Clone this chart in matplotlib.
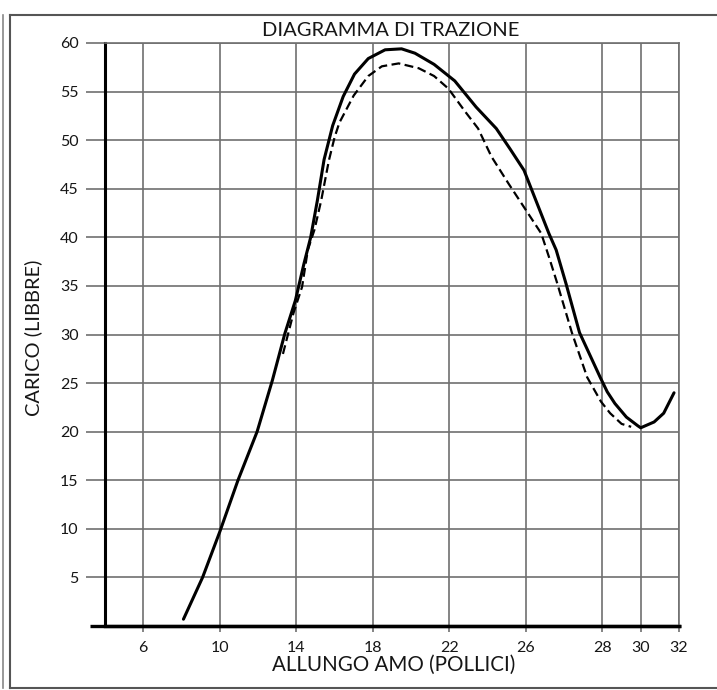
import numpy as np
import matplotlib
matplotlib.use("Agg")
import matplotlib.pyplot as plt
from matplotlib.lines import Line2D

# ---------------------------------------------------------------------------
# Data (x in the printed axis units, y in pounds)
# ---------------------------------------------------------------------------
solid_x = [8.1, 9.1, 10.0, 10.95, 11.95, 12.75, 13.4, 13.95, 14.4, 14.75,
           15.1, 15.45, 15.9, 16.45, 17.04, 17.76, 18.64, 19.5, 20.2, 21.2,
           22.28, 23.4, 24.45, 25.17, 25.9, 26.29, 26.6, 26.79, 27.05, 27.4,
           27.94, 28.25, 28.65, 29.25, 29.85, 30.0, 30.7, 31.2, 31.74]
solid_y = [0.7, 5.0, 9.7, 15.0, 20.0, 25.3, 30.1, 33.5, 37.3, 40.0,
           43.8, 48.0, 51.5, 54.5, 56.8, 58.4, 59.3, 59.4, 58.95, 57.8,
           56.1, 53.4, 51.2, 49.1, 46.9, 43.5, 40.4, 38.7, 35.2, 30.2,
           25.6, 24.1, 22.9, 21.5, 20.6, 20.4, 21.0, 21.9, 24.0]

dash_x = [13.3, 13.85, 14.3, 14.6, 14.95, 15.3, 15.7, 16.0, 16.25, 17.0,
          17.76, 18.47, 19.35, 20.4, 21.2, 21.95, 22.8, 23.5, 24.2, 25.1,
          25.9, 26.4, 26.6, 26.8, 27.2, 27.6, 27.96, 28.4, 29.0, 29.5]
dash_y = [28.0, 32.2, 34.9, 38.7, 40.8, 43.8, 47.9, 50.3, 51.8, 54.6,
          56.6, 57.6, 57.9, 57.4, 56.6, 55.3, 53.0, 51.2, 48.3, 45.5,
          43.1, 40.4, 38.0, 35.5, 30.2, 25.6, 23.1, 21.9, 20.8, 20.5]

x_ticks = [6, 10, 14, 18, 22, 26, 28, 30, 32]
y_ticks = [5, 10, 15, 20, 25, 30, 35, 40, 45, 50, 55, 60]

# the printed x axis is not evenly spaced: map labels to grid positions
scale_labels = [4, 6, 10, 14, 18, 22, 26, 28, 30, 32]
scale_pos = [0, 1, 3, 5, 7, 9, 11, 13, 14, 15]


def fwd(v):
    return np.interp(v, scale_labels, scale_pos)


def inv(p):
    return np.interp(p, scale_pos, scale_labels)


FONT = "Lato"
GRID = "#6f6f6f"
INK = "#161616"

fig = plt.figure(figsize=(7.17, 6.90), dpi=100)
ax = fig.add_axes([105 / 717, 64 / 690, 574 / 717, 583 / 690])

ax.set_xscale("function", functions=(fwd, inv))
ax.set_xlim(4, 32)
ax.set_ylim(0, 60)

ax.set_xticks(x_ticks)
ax.set_yticks(y_ticks)
ax.set_xticklabels([str(t) for t in x_ticks], fontsize=11.5, family=FONT, color=INK)
ax.set_yticklabels([str(t) for t in y_ticks], fontsize=11.5, family=FONT, color=INK)
ax.tick_params(axis="y", length=14, width=1.2, color=GRID, pad=5)
ax.tick_params(axis="x", length=4, width=1.2, color=GRID, pad=7)

ax.grid(True, color=GRID, linewidth=1.2)
ax.set_axisbelow(True)

for side in ("top", "right"):
    ax.spines[side].set_color(GRID)
    ax.spines[side].set_linewidth(1.2)
ax.spines["left"].set_linewidth(2.2)
ax.spines["bottom"].set_linewidth(2.4)
# bottom axis line runs a little past the y axis
ax.plot([-0.026, 1.004], [0, 0], transform=ax.transAxes, color="black",
        linewidth=2.4, clip_on=False, solid_capstyle="butt")

ax.plot(solid_x, solid_y, color="black", linewidth=2.2,
        solid_joinstyle="round", solid_capstyle="round")
ax.plot(dash_x, dash_y, color="black", linewidth=1.6, dashes=(4, 2))

fig.text(391 / 717, 1 - 30 / 690, "DIAGRAMMA DI TRAZIONE", ha="center", va="center",
         fontsize=14.5, family=FONT, color=INK)
fig.text(394 / 717, 1 - 665 / 690, "ALLUNGO AMO (POLLICI)", ha="center", va="center",
         fontsize=14.8, family=FONT, color=INK)
fig.text(33 / 717, 1 - 338 / 690, "CARICO (LIBBRE)", ha="center", va="center",
         rotation=90, fontsize=14.4, family=FONT, color=INK)

# page frame
fc = "#555555"
fig.add_artist(Line2D([10 / 717, 1.0], [1 - 15 / 690, 1 - 15 / 690], color=fc, lw=1.5))
fig.add_artist(Line2D([10 / 717, 10 / 717], [1 - 15 / 690, 1 - 688 / 690], color=fc, lw=1.5))
fig.add_artist(Line2D([3 / 717, 3 / 717], [1 - 15 / 690, 1 - 688 / 690], color="#888888", lw=1.2))
fig.add_artist(Line2D([10 / 717, 1.0], [1 - 688 / 690, 1 - 688 / 690], color=fc, lw=1.5))

fig.savefig("out.png", dpi=100)
